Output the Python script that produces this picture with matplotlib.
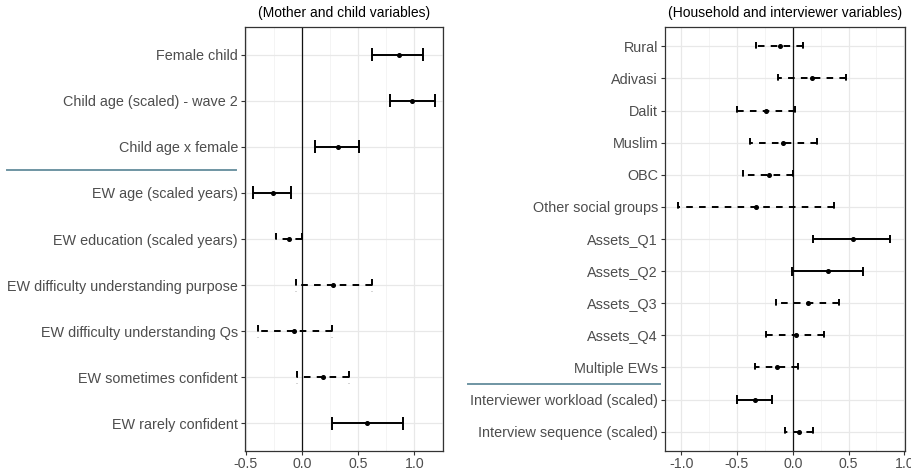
import matplotlib
matplotlib.use("Agg")
import matplotlib.pyplot as plt
from matplotlib.ticker import MultipleLocator, FixedLocator
from matplotlib.transforms import blended_transform_factory
from matplotlib.lines import Line2D

plt.rcParams['font.family'] = ['Liberation Sans', 'DejaVu Sans']

# ---------------- data ----------------
left_title = "(Mother and child variables)"
left_labels = ["Female child", "Child age (scaled) - wave 2", "Child age x female",
               "EW age (scaled years)", "EW education (scaled years)",
               "EW difficulty understanding purpose", "EW difficulty understanding Qs",
               "EW sometimes confident", "EW rarely confident"]
left_est = [0.86, 0.98, 0.32, -0.26, -0.115, 0.28, -0.07, 0.185, 0.58]
left_lo = [0.62, 0.78, 0.12, -0.43, -0.23, -0.055, -0.39, -0.045, 0.27]
left_hi = [1.08, 1.18, 0.51, -0.10, 0.005, 0.62, 0.265, 0.42, 0.90]
left_sig = [True, True, True, True, False, False, False, False, True]

right_title = "(Household and interviewer variables)"
right_labels = ["Rural", "Adivasi", "Dalit", "Muslim", "OBC", "Other social groups",
                "Assets_Q1", "Assets_Q2", "Assets_Q3", "Assets_Q4", "Multiple EWs",
                "Interviewer workload (scaled)", "Interview sequence (scaled)"]
right_est = [-0.116, 0.17, -0.24, -0.087, -0.217, -0.33, 0.537, 0.32, 0.133, 0.029,
             -0.145, -0.34, 0.058]
right_lo = [-0.325, -0.13, -0.50, -0.38, -0.45, -1.03, 0.18, -0.005, -0.15, -0.24,
            -0.34, -0.498, -0.072]
right_hi = [0.093, 0.48, 0.02, 0.217, 0.006, 0.37, 0.87, 0.632, 0.415, 0.284,
            0.043, -0.188, 0.18]
right_sig = [False, False, False, False, False, False, True, True, False, False,
             False, True, False]

left_ticks = [-0.5, 0.0, 0.5, 1.0]
right_ticks = [-1.0, -0.5, 0.0, 0.5, 1.0]
left_xlim = (-0.505, 1.255)
right_xlim = (-1.145, 1.006)
left_sep_after = 3
right_sep_after = 11

# ---------------- figure ----------------
W, H = 912, 470
fig = plt.figure(figsize=(W / 100, H / 100), dpi=100)

def px_axes(x0, x1, y0, y1):
    return fig.add_axes([x0 / W, 1 - y1 / H, (x1 - x0) / W, (y1 - y0) / H])

axL = px_axes(245, 443, 27, 451)
axR = px_axes(665, 905, 27, 451)

TXT = '#4d4d4d'
CAP = 0.14  # half-height of caps in data units
DASH = (0, (3.4, 3.2))

def panel(ax, title, labels, est, lo, hi, sig, ticks, xlim, sep_after, sep_x):
    n = len(labels)
    ys = list(range(1, n + 1))
    ax.set_xlim(*xlim)
    ax.set_ylim(n + 0.6, 0.4)
    ax.set_yticks(ys)
    ax.set_yticklabels(labels, fontsize=10.4, color=TXT)
    ax.xaxis.set_major_locator(FixedLocator(ticks))
    ax.xaxis.set_minor_locator(MultipleLocator(0.25))
    ax.set_xticklabels([f"{t:.1f}" for t in ticks], fontsize=10.2, color=TXT)
    ax.tick_params(axis='both', which='major', length=3, width=0.8, color='#333333', pad=2)
    ax.tick_params(axis='x', which='major', pad=1)
    ax.tick_params(axis='x', which='minor', length=0)
    ax.grid(which='major', color='#e8e8e8', lw=0.9, zorder=0)
    ax.grid(which='minor', axis='x', color='#f2f2f2', lw=0.6, zorder=0)
    ax.set_axisbelow(True)
    for s in ax.spines.values():
        s.set_color('#333333')
        s.set_linewidth(0.9)
    ax.axvline(0, color='#111111', lw=0.9, zorder=2)
    for y, e, l, h, sg in zip(ys, est, lo, hi, sig):
        ls = '-' if sg else DASH
        kw = dict(color='black', lw=1.4, ls=ls, solid_capstyle='butt',
                  dash_capstyle='butt', zorder=3)
        ax.plot([h, l], [y, y], **kw)
        ax.plot([l, l], [y - CAP, y + CAP], **kw)
        ax.plot([h, h], [y - CAP, y + CAP], **kw)
        ax.plot([e], [y], 'o', color='black', ms=2.6, zorder=4)
    ax.set_title(title, fontsize=10, color='black', pad=7)
    tr = blended_transform_factory(fig.transFigure, ax.transData)
    fig.add_artist(Line2D([sep_x[0] / W, sep_x[1] / W], [sep_after + 0.5] * 2,
                          transform=tr, color='#6f95a3', lw=1.4, clip_on=False))

panel(axL, left_title, left_labels, left_est, left_lo, left_hi, left_sig,
      left_ticks, left_xlim, left_sep_after, (7, 236))
panel(axR, right_title, right_labels, right_est, right_lo, right_hi, right_sig,
      right_ticks, right_xlim, right_sep_after, (468, 660))

fig.savefig("out.png", dpi=100)
